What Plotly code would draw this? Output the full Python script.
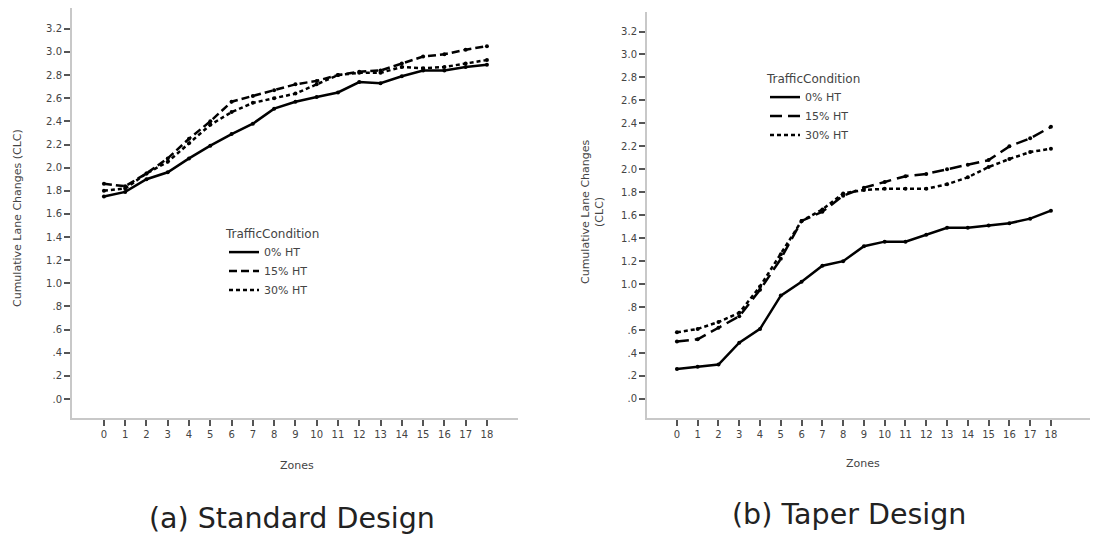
import plotly.graph_objects as go

W, H = 1097, 541

zones = list(range(19))
zone_labels = [str(z) for z in zones]

std_0 = [1.75, 1.79, 1.90, 1.96, 2.08, 2.19, 2.29, 2.38, 2.51, 2.57, 2.61, 2.65, 2.74, 2.73, 2.79, 2.84, 2.84, 2.87, 2.89]
std_15 = [1.86, 1.84, 1.95, 2.08, 2.25, 2.40, 2.57, 2.62, 2.67, 2.72, 2.75, 2.80, 2.83, 2.84, 2.90, 2.96, 2.98, 3.02, 3.05]
std_30 = [1.80, 1.82, 1.95, 2.05, 2.21, 2.37, 2.48, 2.56, 2.60, 2.64, 2.72, 2.80, 2.82, 2.82, 2.87, 2.86, 2.87, 2.90, 2.93]

tap_0 = [0.26, 0.28, 0.30, 0.49, 0.61, 0.90, 1.02, 1.16, 1.20, 1.33, 1.37, 1.37, 1.43, 1.49, 1.49, 1.51, 1.53, 1.57, 1.64]
tap_15 = [0.50, 0.52, 0.62, 0.72, 0.95, 1.22, 1.55, 1.63, 1.77, 1.84, 1.89, 1.94, 1.96, 2.00, 2.04, 2.08, 2.20, 2.27, 2.37]
tap_30 = [0.58, 0.61, 0.67, 0.75, 0.98, 1.26, 1.55, 1.65, 1.79, 1.82, 1.83, 1.83, 1.83, 1.87, 1.93, 2.02, 2.09, 2.15, 2.18]

series_names = ["0% HT", "15% HT", "30% HT"]
y_tickvals = [0.0, 0.2, 0.4, 0.6, 0.8, 1.0, 1.2, 1.4, 1.6, 1.8, 2.0, 2.2, 2.4, 2.6, 2.8, 3.0, 3.2]
y_ticktext = [".0", ".2", ".4", ".6", ".8", "1.0", "1.2", "1.4", "1.6", "1.8", "2.0", "2.2", "2.4", "2.6", "2.8", "3.0", "3.2"]

dashes = ["solid", "8px,4px", "4px,3px"]
dashes_r = ["solid", "12px,6px", "4px,3px"]

FONT = "DejaVu Sans"
fig = go.Figure()

def add_series(vals_list, xa, ya, legend, dl, grp):
    for name, vals, d in zip(series_names, vals_list, dl):
        fig.add_trace(go.Scatter(
            x=zones, y=vals, name=name, mode="lines+markers",
            xaxis=xa, yaxis=ya, showlegend=False, legendgroup=grp + name,
            line=dict(color="black", width=2.5, dash=d),
            marker=dict(color="black", size=4),
        ))
        # legend entry (line only)
        fig.add_trace(go.Scatter(
            x=[None], y=[None], name=name, mode="lines",
            xaxis=xa, yaxis=ya, legend=legend, legendgroup=grp + name,
            line=dict(color="black", width=2.5, dash=d),
        ))

add_series([std_0, std_15, std_30], "x", "y", "legend", dashes, "a")
add_series([tap_0, tap_15, tap_30], "x2", "y2", "legend2", dashes_r, "b")

def px_x(p):
    return p / W

def px_y(p):
    return 1 - p / H

axis_common = dict(
    showgrid=False, zeroline=False, showline=True, linecolor="#c8c8c8", linewidth=2,
    ticks="outside", ticklen=6, tickwidth=1.5, tickcolor="#555",
    tickfont=dict(family=FONT, size=10, color="#444"),
)

legend_common = dict(
    xanchor="left", yanchor="top", bgcolor="rgba(0,0,0,0)",
    title=dict(text="TrafficCondition", font=dict(family=FONT, size=12, color="#444")),
    font=dict(family=FONT, size=11, color="#444"),
    tracegroupgap=0, itemwidth=30,
)

fig.update_layout(
    width=W, height=H, margin=dict(l=0, r=0, t=0, b=0),
    paper_bgcolor="white", plot_bgcolor="white",
    showlegend=True,
    xaxis=dict(domain=[px_x(72), px_x(518)], range=[-1.5, 19.46],
               tickvals=zones, ticktext=zone_labels, anchor="y", **axis_common),
    yaxis=dict(domain=[px_y(418), px_y(8)], range=[-0.164, 3.38],
               tickvals=y_tickvals, ticktext=y_ticktext, anchor="x", **axis_common),
    xaxis2=dict(domain=[px_x(647), px_x(1090)], range=[-1.44, 19.88],
                tickvals=zones, ticktext=zone_labels, anchor="y2", **axis_common),
    yaxis2=dict(domain=[px_y(418), px_y(12)], range=[-0.166, 3.37],
                tickvals=y_tickvals, ticktext=y_ticktext, anchor="x2", **axis_common),
    legend=dict(x=px_x(224), y=px_y(222), **legend_common),
    legend2=dict(x=px_x(765), y=px_y(67), **legend_common),
)

annots = [
    dict(text="Zones", x=px_x(297), y=px_y(465), font=dict(size=11)),
    dict(text="Zones", x=px_x(863), y=px_y(463), font=dict(size=11)),
    dict(text="Cumulative Lane Changes (CLC)", x=px_x(17), y=px_y(218), textangle=-90, font=dict(size=11)),
    dict(text="Cumulative Lane Changes<br>(CLC)", x=px_x(592), y=px_y(212), textangle=-90, font=dict(size=11)),
    dict(text="(a) Standard Design", x=px_x(292), y=px_y(518), font=dict(size=28.5, color="#222")),
    dict(text="(b) Taper Design", x=px_x(849), y=px_y(514), font=dict(size=28.5, color="#222")),
]
for a in annots:
    f = dict(family=FONT, color="#444")
    f.update(a.pop("font"))
    fig.add_annotation(xref="paper", yref="paper", showarrow=False,
                       xanchor="center", yanchor="middle", font=f, **a)

fig.write_html("out.html")
